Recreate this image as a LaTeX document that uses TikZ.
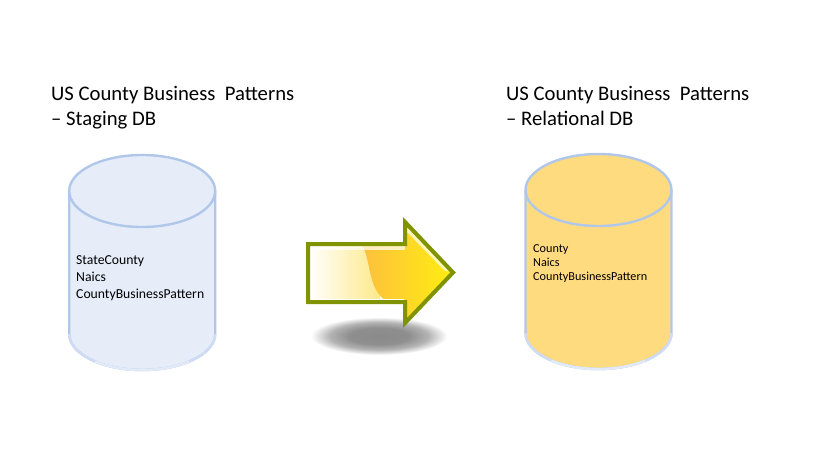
\documentclass[tikz,border=0pt]{standalone}
\usepackage{fontspec}
\setmainfont{Carlito}
\definecolor{dbline}{HTML}{B0C7EA}
\definecolor{dbpale}{HTML}{CFDCF3}
\definecolor{dbpaler}{HTML}{E2E9F7}
\definecolor{stagingfill}{HTML}{E6EDF9}
\definecolor{relationalfill}{HTML}{FFDB80}
\definecolor{arrowline}{HTML}{7F9400}
\definecolor{shaftyellow}{HTML}{FDE98A}
\definecolor{waveorange}{HTML}{FDBF3F}
\definecolor{tipyellow}{HTML}{FFEE10}
\pgfdeclareradialshading{shadowblob}{\pgfpoint{0bp}{0bp}}{
	color(0bp)=(black!46);
	color(11bp)=(black!44);
	color(18bp)=(black!30);
	color(25bp)=(white);
	color(50bp)=(white)
}
\begin{document}
\begin{tikzpicture}[
				        x=1pt,
				        y=-1pt,
				        title/.style={align=left, anchor=north west, inner sep=0pt, font=\fontsize{20.7}{25}\selectfont},
				        dbline/.style={draw=dbline, line width=2.4pt},
				        tables/.style={align=left, anchor=north west, inner sep=0pt},
				        arrowbody/.style={line width=4pt, draw=arrowline, line join=miter}
				        ]
				        \useasboundingbox (0,0) rectangle (840,464);
				        \node[title] (stagingtitle) at (51,86.5) {US County Business~ Patterns\\– Staging DB};
				        \node[title] (relationaltitle) at (506,86.5) {US County Business~ Patterns\\– Relational DB};

				        \foreach \cx/\cy/\cfill in {142.2/191/stagingfill, 598.5/190/relationalfill} {
				              \filldraw[dbline, fill=\cfill] (\cx-73,\cy) -- (\cx-73,\cy+143) arc[x radius=73, y radius=36, start angle=180, end angle=0] -- (\cx+73,\cy);
				              \draw[dbline, dbpale] (\cx-73,\cy+143) arc[x radius=73, y radius=36, start angle=180, end angle=0];
				              \draw[dbline, dbpaler] (\cx-47,\cy+170.6) arc[x radius=73, y radius=36, start angle=130, end angle=50];
				              \filldraw[dbline, fill=\cfill] (\cx,\cy) ellipse[x radius=73, y radius=36];
				        }

				        \node[tables, font=\fontsize{13.7}{17}\selectfont] (stagingtables) at (76,255.5) {StateCounty\\Naics\\CountyBusinessPattern};
				        \node[tables, font=\fontsize{12.2}{14}\selectfont] (relationaltables) at (533,244.5) {County\\Naics\\CountyBusinessPattern};

				        \shade[shading=shadowblob] (379,336) ellipse[x radius=68, y radius=19];

				        \shade[left color=white, right color=shaftyellow] (308,244) rectangle (380,302);
				        \shade[left color=waveorange, right color=tipyellow]
				              (361,244) .. controls (372,258) and (366,290) .. (388,302) -- (405,302) -- (405,323) -- (453,272.5) -- (405,222) -- (405,244) -- cycle;
				        \fill[white, opacity=.7] (310,246) rectangle (405,249.5);
				        \fill[white, opacity=.7] (407,227) -- (449,271) -- (445,271) -- (407,232) -- cycle;
				        \draw[white, line width=1.2pt] (310,246) -- (310,299.2) -- (404,299.2);
				        \draw[arrowbody] (308,244) -- (405,244) -- (405,222) -- (453,272.5) -- (405,323) -- (405,302) -- (308,302) -- cycle;
				    \end{tikzpicture}
\end{document}
